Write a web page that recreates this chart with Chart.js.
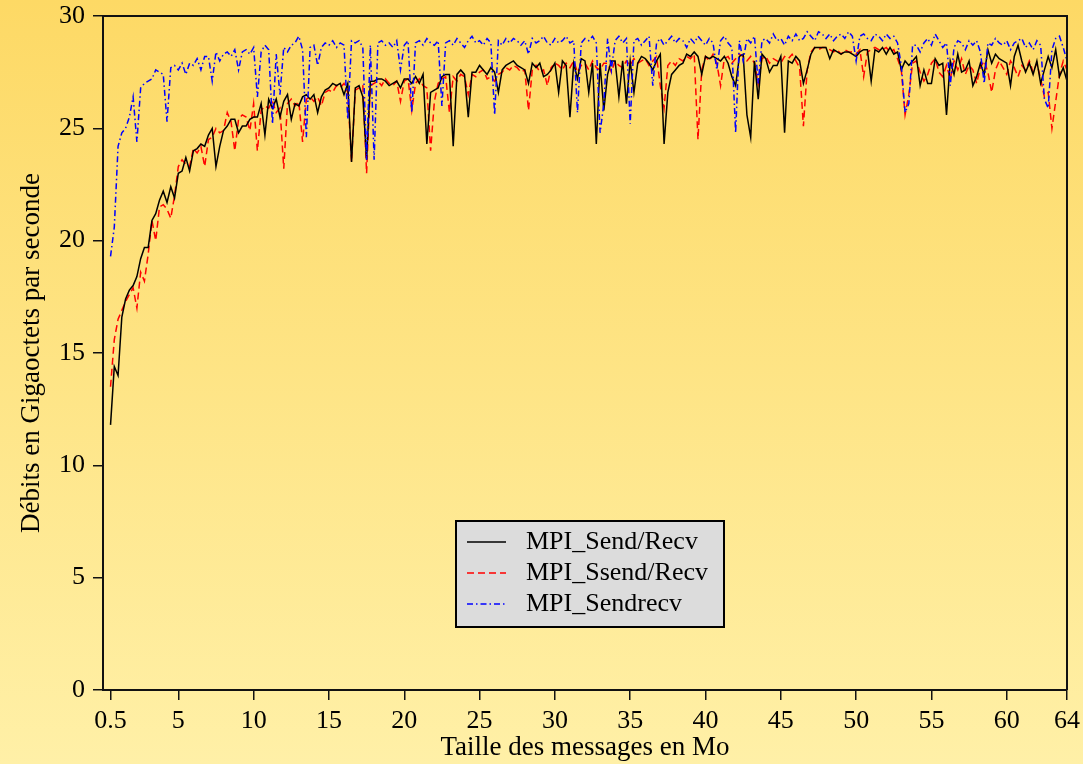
<!DOCTYPE html>
<html lang="fr">
<head>
<meta charset="utf-8">
<title>Débits MPI</title>
<script src="https://cdn.jsdelivr.net/npm/chart.js@4.4.1/dist/chart.umd.min.js"></script>
<style>
  html, body { margin: 0; padding: 0; background: #fee89a; }
</style>
</head>
<body>
<canvas id="debits" width="1083" height="764"></canvas>
<script>
// tailles de message (Mo), pas de 0.25 Mo
const tailles = [];
for (let t = 0.5; t <= 64; t += 0.25) tailles.push(t);

const graduationsX = [0.5, 5, 10, 15, 20, 25, 30, 35, 40, 45, 50, 55, 60, 64];

// MPI_Send/Recv
const sendRecv = [
  11.8, 14.4,
  14.0, 16.6, 17.4, 17.8,  18.0, 18.4, 19.2, 19.7,  19.7, 20.9, 21.2, 21.8,  22.2, 21.7, 22.4, 21.9,
  23.0, 23.1, 23.7, 23.1,  24.0, 24.1, 24.3, 24.2,  24.7, 25.0, 23.3, 24.2,  24.9, 25.1, 25.4, 25.4,
  24.8, 25.1, 25.1, 25.4,  25.5, 25.5, 26.1, 24.7,  26.3, 25.9, 26.3, 25.5,  26.2, 26.5, 25.4, 26.1,
  26.0, 26.4, 26.5, 26.3,  26.5, 25.7, 26.4, 26.7,  26.8, 27.0, 26.9, 27.0,  26.5, 27.0, 23.5, 26.8,
  26.9, 26.4, 23.6, 27.1,  27.1, 27.2, 27.2, 27.1,  26.9, 27.0, 27.1, 26.8,  27.2, 27.2, 27.0, 27.3,
  27.0, 27.4, 24.3, 26.6,  26.7, 26.8, 27.3, 27.4,  27.4, 24.2, 27.4, 27.6,  27.4, 25.5, 27.5, 27.5,
  27.8, 27.6, 27.4, 27.7,  27.5, 26.6, 27.6, 27.8,  27.9, 28.0, 27.8, 27.7,  27.6, 27.0, 27.9, 27.7,
  27.9, 27.3, 27.4, 27.6,  27.9, 26.6, 28.0, 27.8,  25.5, 27.9, 27.2, 28.1,  28.0, 26.6, 27.9, 24.3,
  27.9, 25.8, 27.4, 28.0,  28.0, 26.4, 28.0, 26.1,  28.0, 26.6, 27.9, 28.2,  28.1, 27.9, 27.6, 28.0,
  28.3, 24.3, 26.6, 27.4,  27.6, 27.8, 27.9, 28.3,  28.2, 28.4, 28.2, 27.4,  28.2, 28.1, 28.2, 28.1,
  28.0, 28.2, 27.9, 27.3,  26.9, 28.2, 28.3, 25.6,  24.6, 28.0, 26.3, 28.3,  28.1, 27.5, 27.8, 27.8,
  28.2, 24.8, 28.0, 27.9,  28.2, 28.0, 27.0, 27.6,  28.3, 28.6, 28.6, 28.6,  28.6, 28.1, 28.5, 28.4,
  28.3, 28.4, 28.4, 28.3,  28.2, 28.4, 28.5, 28.5,  27.1, 28.5, 28.4, 28.6,  28.3, 28.6, 28.3, 28.4,
  27.6, 28.0, 27.8, 28.0,  28.2, 26.9, 27.6, 27.0,  27.0, 28.1, 27.8, 27.9,  25.6, 28.0, 27.4, 28.3,
  27.5, 27.6, 28.0, 26.9,  27.3, 27.9, 27.4, 28.5,  27.9, 28.3, 28.1, 28.0,  27.9, 26.9, 28.2, 28.7,
  28.0, 27.5, 27.9, 27.4,  28.0, 27.0, 27.6, 28.2,  27.7, 28.5, 27.3, 27.7,
  27.1
];

// MPI_Ssend/Recv
const ssendRecv = [
  13.5, 15.6,
  16.5, 16.9, 17.3, 17.6,  17.9, 17.0, 18.6, 18.2,  19.4, 20.9, 20.0, 21.5,  21.6, 21.4, 21.0, 22.0,
  23.3, 23.6, 23.4, 23.3,  24.1, 23.9, 24.2, 23.3,  24.5, 24.6, 25.0, 24.8,  24.9, 25.7, 25.3, 24.0,
  25.4, 25.6, 25.5, 24.9,  26.1, 24.0, 25.8, 26.0,  25.9, 26.2, 25.7, 25.9,  23.2, 26.1, 26.3, 26.0,
  26.2, 24.4, 26.3, 26.4,  26.2, 26.4, 26.0, 26.6,  26.7, 26.6, 26.9, 26.8,  27.0, 26.6, 23.5, 26.7,
  26.8, 26.9, 23.0, 26.9,  27.0, 27.1, 26.9, 27.2,  27.0, 26.9, 27.1, 26.2,  27.1, 27.2, 25.8, 27.0,
  27.2, 26.9, 26.8, 24.0,  26.2, 27.0, 27.2, 27.3,  25.7, 27.3, 27.1, 27.4,  27.3, 26.5, 27.4, 27.3,
  27.5, 27.6, 27.2, 27.3,  27.1, 27.4, 27.5, 27.7,  27.6, 27.8, 27.7, 27.5,  27.6, 25.8, 27.6, 27.8,
  27.5, 27.6, 26.9, 27.7,  27.9, 27.8, 27.6, 27.9,  27.7, 28.0, 27.5, 27.8,  27.9, 27.6, 28.0, 27.7,
  27.6, 27.9, 27.9, 27.5,  28.0, 27.8, 27.7, 28.0,  27.8, 28.1, 27.9, 28.0,  28.1, 27.8, 28.0, 28.2,
  26.9, 25.9, 27.8, 28.0,  27.8, 28.1, 28.0, 28.2,  28.1, 28.3, 24.5, 27.6,  28.2, 28.0, 28.3, 27.9,
  26.9, 28.1, 28.2, 27.9,  28.1, 28.3, 28.2, 28.0,  28.2, 27.9, 27.0, 28.1,  28.2, 27.9, 28.1, 28.0,
  27.9, 28.2, 28.1, 28.3,  28.0, 27.7, 25.1, 27.6,  28.4, 28.6, 28.5, 28.6,  28.6, 28.5, 28.4, 28.5,
  28.3, 28.5, 28.4, 28.4,  28.3, 28.5, 27.3, 28.4,  28.5, 28.6, 28.5, 28.5,  28.6, 28.4, 28.5, 28.1,
  27.6, 25.6, 26.5, 27.9,  28.0, 27.5, 27.1, 27.4,  27.9, 28.1, 27.5, 27.3,  27.8, 27.2, 28.0, 27.6,
  28.1, 27.4, 27.8, 27.6,  27.0, 27.7, 28.0, 27.5,  26.6, 27.6, 28.0, 27.7,  27.4, 28.0, 27.7, 27.3,
  27.8, 27.6, 28.0, 27.5,  27.9, 27.2, 26.4, 26.6,  25.0, 26.2, 27.4, 28.0,
  27.6
];

// MPI_Sendrecv
const sendrecv = [
  19.3, 20.6,
  24.2, 24.8, 25.0, 25.5,  26.4, 24.4, 26.8, 27.0,  27.1, 27.2, 27.6, 27.5,  27.4, 25.3, 27.7, 27.8,
  27.6, 27.9, 27.4, 27.9,  27.8, 28.1, 27.6, 28.2,  28.2, 27.1, 28.4, 28.0,  28.3, 28.4, 28.2, 28.5,
  27.6, 28.4, 28.5, 28.3,  28.6, 26.4, 28.4, 28.7,  28.5, 25.2, 28.3, 26.5,  28.6, 28.4, 28.7, 28.8,
  29.1, 28.5, 24.6, 28.6,  28.7, 27.8, 28.6, 28.8,  28.7, 28.9, 28.6, 28.8,  28.7, 25.4, 28.9, 28.8,
  28.9, 28.6, 23.6, 28.7,  23.6, 28.8, 28.9, 28.7,  28.8, 28.6, 28.9, 27.6,  28.7, 28.9, 25.7, 28.8,
  28.9, 28.7, 29.0, 28.8,  28.7, 28.9, 26.0, 28.8,  28.9, 28.7, 29.0, 28.8,  28.6, 28.9, 29.1, 28.8,
  28.9, 28.7, 29.0, 28.8,  25.6, 28.9, 28.7, 29.0,  28.8, 29.0, 28.9, 28.7,  28.9, 28.3, 29.0, 28.8,
  28.9, 29.1, 28.8, 28.7,  29.0, 28.8, 28.9, 29.1,  28.8, 28.9, 25.7, 28.8,  29.0, 28.9, 29.1, 28.8,
  24.8, 26.1, 29.0, 27.6,  28.9, 29.1, 28.8, 29.0,  25.2, 28.9, 29.0, 28.7,  28.9, 29.1, 26.9, 28.8,
  29.0, 28.7, 28.9, 29.1,  28.8, 29.0, 28.9, 28.6,  29.0, 28.8, 29.1, 28.9,  28.7, 29.0, 28.8, 27.6,
  28.9, 29.1, 28.8, 28.6,  24.8, 28.9, 28.0, 29.0,  28.8, 29.1, 27.0, 28.9,  29.0, 28.8, 29.2, 28.9,
  29.0, 28.7, 29.1, 28.9,  29.2, 28.9, 29.0, 29.3,  29.1, 28.9, 29.3, 29.2,  29.0, 29.2, 28.9, 29.1,
  29.2, 29.0, 29.3, 29.1,  28.0, 29.1, 29.2, 29.0,  28.9, 29.2, 29.1, 28.9,  29.2, 29.0, 29.1, 28.8,
  27.8, 25.7, 26.1, 28.7,  28.7, 28.4, 28.8, 29.0,  28.7, 29.2, 28.9, 28.6,  28.8, 26.9, 28.6, 28.9,
  28.8, 28.5, 28.9, 28.7,  28.9, 28.4, 27.0, 28.8,  28.7, 29.0, 28.8, 28.7,  28.9, 28.5, 28.8, 28.9,
  29.0, 28.6, 28.8, 28.5,  28.9, 28.7, 26.3, 25.9,  28.5, 29.0, 29.1, 28.6,
  28.0
];

const police = '"Liberation Serif", "Times New Roman", serif';

// fond dégradé orangé -> jaune pâle
const fondPlugin = {
  id: 'fond',
  beforeDraw(chart) {
    const ctx = chart.ctx;
    const g = ctx.createLinearGradient(0, 0, 0, chart.height);
    g.addColorStop(0, '#fdd965');
    g.addColorStop(1, '#fff0a7');
    ctx.save();
    ctx.fillStyle = g;
    ctx.fillRect(0, 0, chart.width, chart.height);
    ctx.restore();
  },
  afterDraw(chart) {
    const a = chart.chartArea;
    const ctx = chart.ctx;
    ctx.save();
    ctx.strokeStyle = '#111';
    ctx.lineWidth = 2;
    ctx.beginPath();
    ctx.moveTo(a.left, a.top);
    ctx.lineTo(a.right, a.top);
    ctx.lineTo(a.right, a.bottom);
    ctx.stroke();
    ctx.restore();
  }
};

// légende encadrée au milieu du graphique
const legendePlugin = {
  id: 'legende',
  afterDraw(chart) {
    const a = chart.chartArea;
    const ctx = chart.ctx;
    const x0 = a.left + 353, y0 = a.top + 505, w = 268, h = 106;
    ctx.save();
    ctx.fillStyle = '#dcdcdc';
    ctx.fillRect(x0, y0, w, h);
    ctx.lineWidth = 2;
    ctx.strokeStyle = '#000';
    ctx.strokeRect(x0, y0, w, h);
    ctx.font = '26px ' + police;
    ctx.textBaseline = 'middle';
    ctx.fillStyle = '#000';
    chart.data.datasets.forEach((ds, i) => {
      const y = y0 + 21 + i * 31;
      ctx.strokeStyle = ds.borderColor;
      ctx.lineWidth = 1.3;
      ctx.setLineDash(ds.borderDash || []);
      ctx.beginPath();
      ctx.moveTo(x0 + 11, y);
      ctx.lineTo(x0 + 50, y);
      ctx.stroke();
      ctx.setLineDash([]);
      ctx.fillText(ds.label, x0 + 70, y);
    });
    ctx.restore();
  }
};

Chart.defaults.font.family = police;
Chart.defaults.color = '#000';

new Chart(document.getElementById('debits'), {
  type: 'line',
  data: {
    labels: tailles,
    datasets: [
      { label: 'MPI_Send/Recv', data: sendRecv, borderColor: '#000000', borderWidth: 1.5, order: 1 },
      { label: 'MPI_Ssend/Recv', data: ssendRecv, borderColor: '#ff0000', borderWidth: 1.5, borderDash: [7, 4], order: 2 },
      { label: 'MPI_Sendrecv', data: sendrecv, borderColor: '#0000ff', borderWidth: 1.5, borderDash: [6, 3, 1.5, 3], order: 0 }
    ]
  },
  options: {
    responsive: false,
    animation: false,
    elements: { point: { radius: 0 }, line: { tension: 0, fill: false } },
    layout: { padding: { top: 16, right: 16, left: 0, bottom: 0 } },
    plugins: { legend: { display: false }, tooltip: { enabled: false } },
    scales: {
      x: {
        type: 'linear',
        min: 0,
        max: 64,
        afterBuildTicks: s => { s.ticks = graduationsX.map(v => ({ value: v })); },
        afterFit: s => { s.height = 74; s.paddingLeft = 0; s.paddingRight = 0; },
        border: { display: true, color: '#111', width: 2 },
        grid: { drawOnChartArea: false, color: '#111', tickLength: 10, lineWidth: 1.5 },
        ticks: { font: { size: 26 }, padding: 6, maxRotation: 0, autoSkip: false },
        title: { display: true, text: 'Taille des messages en Mo', font: { size: 27 }, padding: { top: 0, bottom: 0 } }
      },
      y: {
        min: 0,
        max: 30,
        afterFit: s => { s.width = 103; s.paddingTop = 0; s.paddingBottom = 0; },
        border: { display: true, color: '#111', width: 2 },
        grid: { drawOnChartArea: false, color: '#111', tickLength: 10, lineWidth: 1.5 },
        ticks: { stepSize: 5, font: { size: 26 }, padding: 8 },
        title: { display: true, text: 'Débits en Gigaoctets par seconde', font: { size: 27 }, padding: { top: 16, bottom: 0 } }
      }
    }
  },
  plugins: [fondPlugin, legendePlugin]
});
</script>
</body>
</html>
